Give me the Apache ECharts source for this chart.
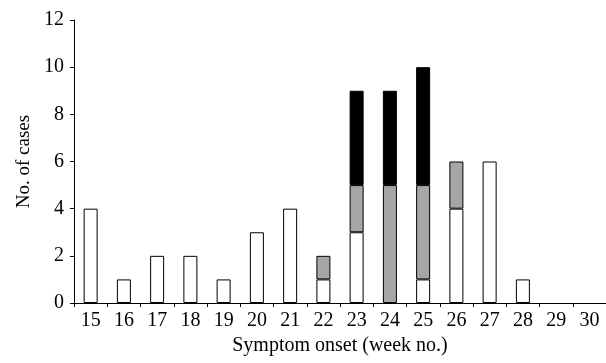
<!DOCTYPE html>
<html>
<head>
<meta charset="utf-8">
<script src="https://cdn.jsdelivr.net/npm/echarts@6/dist/echarts.min.js"></script>
<style>html,body{margin:0;padding:0;background:#fff}#chart{width:606px;height:363px}</style>
</head>
<body>
<div id="chart"></div>
<script>
// weeks of symptom onset
const weeks = ['15', '16', '17', '18', '19', '20', '21', '22', '23', '24', '25', '26', '27', '28', '29', '30'];
// stacked counts, bottom to top ('-' = no segment)
const whiteCases = [4, 1, 2, 2, 1, 3, 4, 1, 3, '-', 1, 4, 6, 1, '-', '-'];
const greyCases = ['-', '-', '-', '-', '-', '-', '-', 1, 2, 5, 4, 2, '-', '-', '-', '-'];
const blackCases = ['-', '-', '-', '-', '-', '-', '-', '-', 4, 4, 5, '-', '-', '-', '-', '-'];

const FONT = 'Liberation Serif';
const chart = echarts.init(document.getElementById('chart'));

const barSeries = (data, color) => ({
  type: 'bar', stack: 'cases', data, barWidth: 14,
  itemStyle: { color, borderColor: '#000', borderWidth: 1 },
  animation: false,
});

chart.setOption({
  grid: { left: 74, right: -6, top: 20, bottom: 60 },
  xAxis: {
    type: 'category', data: weeks,
    name: 'Symptom onset (week no.)', nameLocation: 'middle', nameGap: 31,
    nameTextStyle: { fontFamily: FONT, fontSize: 20, color: '#000' },
    axisLine: { lineStyle: { color: '#000', width: 1 } },
    axisTick: { show: true, alignWithLabel: false, length: 4, lineStyle: { color: '#000' } },
    axisLabel: { fontFamily: FONT, fontSize: 20, color: '#000', margin: 8, interval: 0 },
  },
  yAxis: {
    type: 'value', min: 0, max: 12, interval: 2,
    name: 'No. of cases', nameLocation: 'middle', nameGap: 38,
    nameTextStyle: { fontFamily: FONT, fontSize: 19, color: '#000' },
    axisLine: { show: true, lineStyle: { color: '#000', width: 1 } },
    axisTick: { show: true, length: 4, lineStyle: { color: '#000' } },
    axisLabel: { fontFamily: FONT, fontSize: 20, color: '#000', margin: 10 },
    splitLine: { show: false },
  },
  series: [
    barSeries(whiteCases, '#ffffff'),
    barSeries(greyCases, '#a6a6a6'),
    barSeries(blackCases, '#000000'),
  ],
});
</script>
</body>
</html>
